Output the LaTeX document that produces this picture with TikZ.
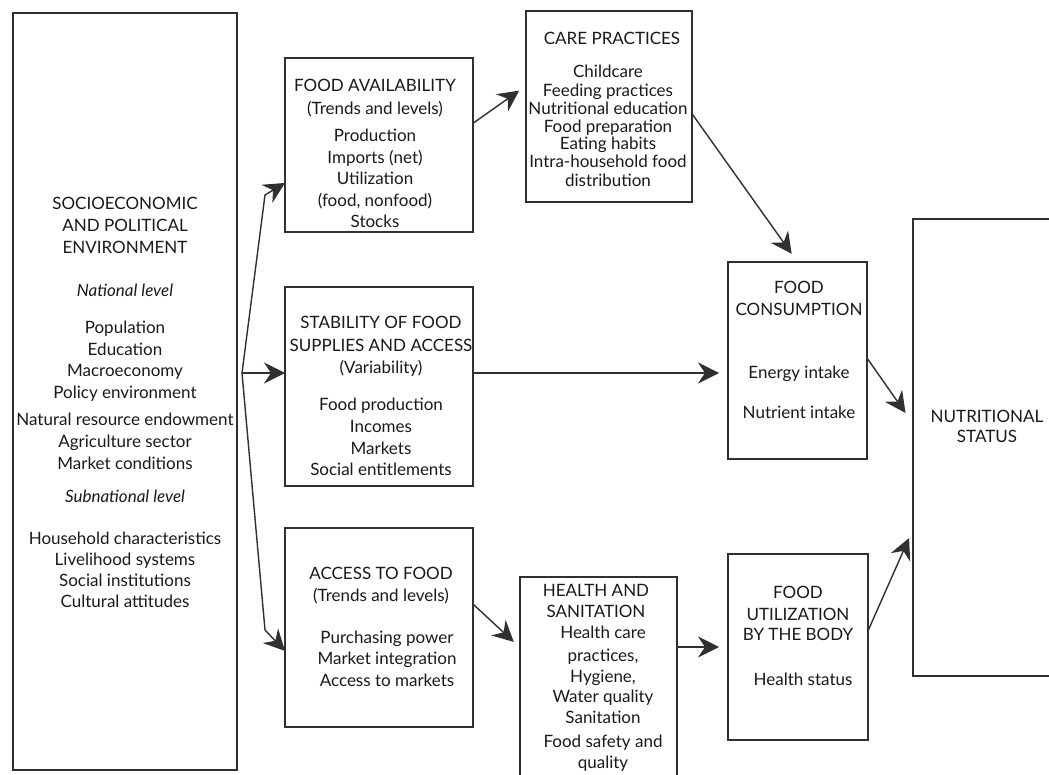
\documentclass[tikz,border=0pt]{standalone}
\usepackage{fontspec}
\setmainfont{Lato}
\usetikzlibrary{arrows.meta}
\definecolor{ink}{HTML}{1A1A1A}
\definecolor{edge}{HTML}{303030}
\tikzset{
  blk/.style={draw=edge, line width=1.3pt, fill=none, inner sep=0pt, outer sep=0pt},
  txt/.style={anchor=mid, yshift=-3pt, inner sep=0pt, text=ink, font=\fontsize{17}{20}\selectfont},
  arr/.style={draw=edge, line width=1.4pt, -{Stealth[length=21pt,width=21pt,inset=7pt]}},
}
\newcommand\boxtext[3]{\foreach \yy/\ss [count=\ii] in {#3} {\node[txt] (#1-\ii) at (#2,\yy) {\ss};}}
\begin{document}
\begin{tikzpicture}[x=1pt,y=-1pt]
\path[use as bounding box, clip] (0,0) rectangle (1049,775);
\fill[white] (0,0) rectangle (1049,775);
% boxes
\node[blk, minimum width=224pt, minimum height=757pt] (env) at (125,391.5) {};
\node[blk, minimum width=188pt, minimum height=174pt] (avail) at (379,145) {};
\node[blk, minimum width=166pt, minimum height=191pt] (care) at (609,106.5) {};
\node[blk, minimum width=188pt, minimum height=199pt] (stab) at (379,386.5) {};
\node[blk, minimum width=188pt, minimum height=199pt] (access) at (379,627.5) {};
\node[blk, minimum width=157pt, minimum height=208pt] (health) at (598.5,681) {};
\node[blk, minimum width=139pt, minimum height=197pt] (cons) at (797.5,360.5) {};
\node[blk, minimum width=140pt, minimum height=186pt] (util) at (798,647) {};
\node[blk, minimum width=147pt, minimum height=457pt] (nutri) at (986.5,447.5) {};
% texts
\boxtext{envt}{125}{204/SOCIOECONOMIC, 226/AND POLITICAL, 248/ENVIRONMENT, 291/{\itshape National level}, 328/Population, 350/Education, 371/Macroeconomy, 393/Policy environment, 420/Natural resource endowment, 442/Agriculture sector, 464/Market conditions, 497/{\itshape Subnational level}, 539/Household characteristics, 560/Livelihood systems, 581/Social institutions, 602/Cultural attitudes}
\boxtext{availt}{375}{86/FOOD AVAILABILITY, 109/(Trends and levels), 136/Production, 158/Imports (net), 179/Utilization, 201/{(food, nonfood)}, 222/Stocks}
\node[txt] (caret) at (612,39) {CARE PRACTICES};
\boxtext{carel}{608}{72/Childcare, 91/Feeding practices, 109/Nutritional education, 127/Food preparation, 144/Eating habits, 162/Intra-household food, 181/distribution}
\boxtext{stabt}{381}{323/STABILITY OF FOOD, 346/SUPPLIES AND ACCESS, 368/(Variability), 405/Food production, 427/Incomes, 449/Markets, 470/Social entitlements}
\boxtext{accesst}{381}{574/ACCESS TO FOOD, 596/(Trends and levels)}
\boxtext{accessl}{387}{638/Purchasing power, 659/Market integration, 681/Access to markets}
\boxtext{healtht}{596}{591/HEALTH AND, 612/SANITATION}
\boxtext{healthl}{603}{633/Health care, 656/{practices,}, 677/{Hygiene,}, 697/Water quality, 718/Sanitation, 742/Food safety and, 763/quality}
\boxtext{const}{799}{288/FOOD, 310/CONSUMPTION, 373/Energy intake, 413/Nutrient intake}
\boxtext{utilt}{798}{593/FOOD, 615/UTILIZATION, 635/BY THE BODY}
\node[txt] (utill) at (803,680) {Health status};
\boxtext{nutrit}{987}{417/NUTRITIONAL, 437/STATUS}
% connectors
\coordinate (br) at (242,373);
\coordinate (b1) at (265,195);
\coordinate (b2) at (265,630);
\draw[arr] (br) -- (b1) -- (avail.202.5);
\draw[arr] (br) -- (br -| stab.west);
\draw[arr] (br) -- (b2) -- (access.194.6);
\draw[arr, shorten >=8.4pt] (avail.13.75) -- (care.166.3);
\draw[arr, shorten >=10pt] (care.-5.85) -- (cons.90.6);
\draw[arr, shorten >=9pt] (stab.east |- br) -- (cons.west |- br);
\draw[arr, shorten >=13pt] (cons.2.9) -- (nutri.162);
\draw[arr, shorten >=8.4pt] (access.14.6) -- (health.157.8);
\draw[arr, shorten >=9pt] (health.east |- util.west) -- (util.west);
\draw[arr, shorten >=9.8pt] (util.13.5) -- (nutri.228.6);
\end{tikzpicture}
\end{document}
